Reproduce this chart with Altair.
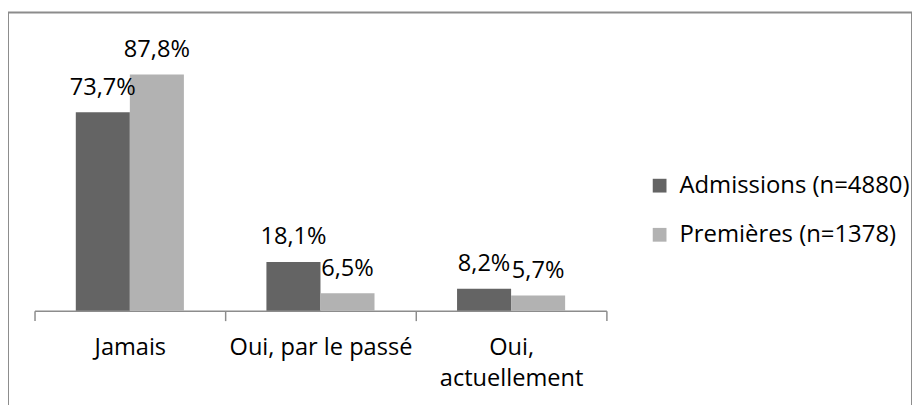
import altair as alt
import pandas as pd

categories = ["Jamais", "Oui, par le passé", "Oui, actuellement"]
series = ["Admissions (n=4880)", "Premières (n=1378)"]
admissions = [73.7, 18.1, 8.2]
premieres = [87.8, 6.5, 5.7]
colors = ["#646464", "#b2b2b2"]

rows = []
for s, vals in zip(series, [admissions, premieres]):
    for c, v in zip(categories, vals):
        rows.append({"cat": c, "serie": s, "val": v,
                     "lab": f"{v:.1f}".replace(".", ",") + "%"})
df = pd.DataFrame(rows)

FONT = "Open Sans"
H = 412
BASE = 303.5

x = alt.X("cat:N", sort=categories, title=None,
          scale=alt.Scale(range=[27, 609], paddingInner=0, paddingOuter=0),
          axis=alt.Axis(orient="bottom", offset=BASE - H, tickBand="extent",
                        labelAngle=0, labelFontSize=24, labelColor="#000000",
                        labelFont=FONT, labelPadding=15, labelLineHeight=32,
                        labelLimit=0,
                        labelExpr="datum.label == 'Oui, actuellement' ? split(datum.label, ' ') : datum.label",
                        domainColor="#8c8c8c", domainWidth=1.5,
                        tickColor="#8c8c8c", tickWidth=1.5, tickSize=10, grid=False))
y = alt.Y("val:Q", axis=None, scale=alt.Scale(domain=[0, 100], range=[BASE, BASE - 274]))
xo = alt.XOffset("serie:N", sort=series,
                 scale=alt.Scale(paddingInner=0, paddingOuter=0.7636))

bars = alt.Chart(df).mark_bar().encode(
    x=x, y=y, xOffset=xo,
    color=alt.Color("serie:N", sort=series,
                    scale=alt.Scale(domain=series, range=colors),
                    legend=alt.Legend(title=None, orient="none", legendX=651, legendY=164,
                                      symbolType="square", symbolSize=196,
                                      symbolStrokeWidth=0, labelFontSize=24.3,
                                      labelFont=FONT, labelColor="#000000",
                                      labelLimit=0,
                                      labelOffset=8, rowPadding=25, padding=0)),
)

labels = alt.Chart(df).mark_text(font=FONT, fontSize=24, color="#000000",
                                 baseline="alphabetic", dy=-18).encode(
    x=x, y=y, xOffset=xo, text="lab:N"
)

chart = alt.layer(bars, labels).properties(
    width=920, height=H,
    autosize=alt.AutoSizeParams(type="none"),
    padding={"left": 0, "top": 1, "right": 0, "bottom": 0},
).configure(font=FONT).configure_view(stroke="#8c8c8c", strokeWidth=2)

chart.save("out.html", embed_options={"renderer": "svg", "actions": False})
